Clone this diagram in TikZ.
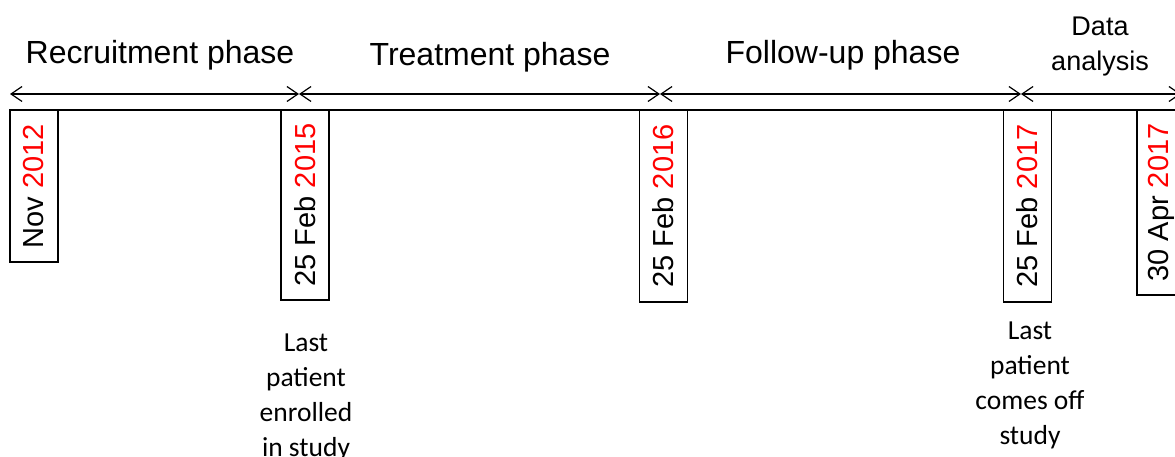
\documentclass[tikz,border=0pt]{standalone}
\usepackage{fontspec}
\setmainfont{Liberation Sans}
\newfontfamily\calib{Carlito}
\usetikzlibrary{arrows.meta}
\begin{document}
\begin{tikzpicture}[x=1pt,y=-1pt,
  arr/.style={{Straight Barb[length=11pt,width=15pt]}-{Straight Barb[length=11pt,width=15pt]}, line width=1.2pt},
  datebox/.style={draw, line width=1.2pt, rotate=90, inner sep=0pt, minimum height=48pt, font=\fontsize{29}{34}\selectfont},
  phase/.style={font=\fontsize{32}{36}\selectfont, inner sep=0pt},
  note/.style={font=\calib\fontsize{27.5}{35}\selectfont, align=center, inner sep=0pt}]
\useasboundingbox (0,0) rectangle (1175,457);
\clip (0,0) rectangle (1175,457);
\fill[white] (0,0) rectangle (1175,457);
% arrow coordinates
\coordinate (a0) at (10,94);
\coordinate (a1) at (299,94);
\coordinate (a2) at (660,94);
\coordinate (a3) at (1021,94);
\coordinate (a4) at (1181,94);
\draw[arr] (a0) -- (a1);
\draw[arr] (a1) -- (a2);
\draw[arr] (a2) -- (a3);
\draw[arr] (a3) -- (a4);
% phase labels
\node[phase] (p1) at (160,55) {Recruitment phase};
\node[phase] (p2) at (490,57) {Treatment phase};
\node[phase] (p3) at (843,55) {Follow-up phase};
\node[phase, align=center, font=\fontsize{27}{35}\selectfont] (p4) at (1100,47) {Data\\analysis};
% timeline line
\coordinate (l0) at (10,110);
\coordinate (l1) at (1175,110);
\draw[line width=1.2pt] (l0) -- (l1);
% date boxes
\node[datebox, minimum width=152pt] (b1) at (34,186) {Nov \textcolor{red}{2012}};
\node[datebox, minimum width=190pt] (b2) at (305,205) {25 Feb \textcolor{red}{2015}};
\node[datebox, minimum width=192pt] (b3) at (663.5,206) {25 Feb \textcolor{red}{2016}};
\node[datebox, minimum width=192pt] (b4) at (1027.5,206) {25 Feb \textcolor{red}{2017}};
\node[datebox, minimum width=185pt] (b5) at (1161,202.5) {30 Apr \textcolor{red}{2017}};
% notes
\node[note, anchor=north] (n1) at (306,334) {Last\\patient\\enrolled\\in study};
\node[note, anchor=north] (n2) at (1030,322) {Last\\patient\\comes off\\study};
\end{tikzpicture}
\end{document}
